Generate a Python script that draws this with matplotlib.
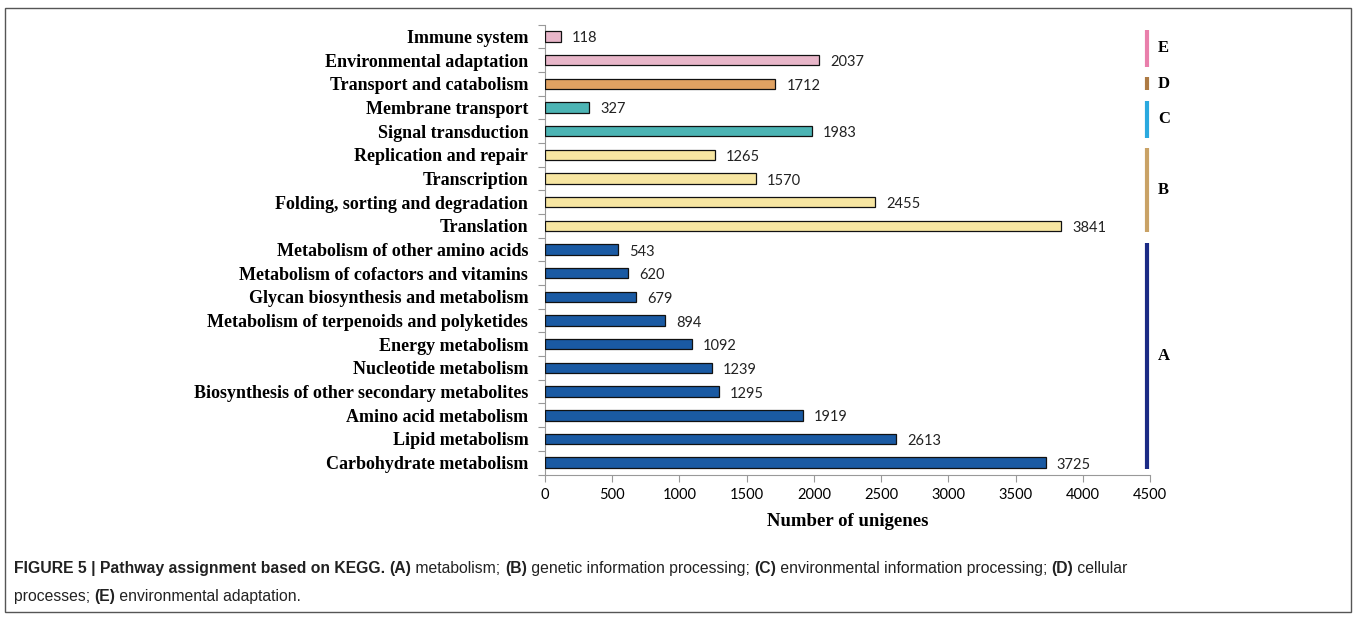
import matplotlib
matplotlib.use("Agg")
import matplotlib.pyplot as plt
from matplotlib.patches import Rectangle
import numpy as np

categories = ["Immune system", "Environmental adaptation", "Transport and catabolism",
              "Membrane transport", "Signal transduction", "Replication and repair",
              "Transcription", "Folding, sorting and degradation", "Translation",
              "Metabolism of other amino acids", "Metabolism of cofactors and vitamins",
              "Glycan biosynthesis and metabolism", "Metabolism of terpenoids and polyketides",
              "Energy metabolism", "Nucleotide metabolism",
              "Biosynthesis of other secondary metabolites", "Amino acid metabolism",
              "Lipid metabolism", "Carbohydrate metabolism"]
values = [118, 2037, 1712, 327, 1983, 1265, 1570, 2455, 3841,
          543, 620, 679, 894, 1092, 1239, 1295, 1919, 2613, 3725]
groups = ["E", "E", "D", "C", "C", "B", "B", "B", "B",
          "A", "A", "A", "A", "A", "A", "A", "A", "A", "A"]
group_names = ["E", "D", "C", "B", "A"]
bar_colors = {"A": "#1a5aa3", "B": "#f7e6a2", "C": "#4cb4b4", "D": "#e0a262", "E": "#e8b6c9"}
line_colors = {"A": "#1b2b85", "B": "#c9a266", "C": "#2aa9df", "D": "#ad7a44", "E": "#e97fab"}
xticks = [0, 500, 1000, 1500, 2000, 2500, 3000, 3500, 4000, 4500]

W, H = 1357, 619
fig = plt.figure(figsize=(W / 100, H / 100), dpi=100)
ax = fig.add_axes([545 / W, 1 - 474.5 / H, (1150 - 545) / W, (474.5 - 24.5) / H])

n = len(categories)
y = np.arange(n)
cols = [bar_colors[g] for g in groups]
ax.barh(y, values, height=0.44, color=cols, edgecolor="#111111", linewidth=0.9, zorder=3)
ax.set_ylim(n - 0.5, -0.5)
ax.set_xlim(0, 4500)

serif = ["Liberation Serif", "DejaVu Serif"]
sans = ["Lato", "DejaVu Sans"]
for yi, v in zip(y, values):
    ax.annotate(str(v), (v, yi), xytext=(8, -1.5), textcoords="offset points",
                va="center", ha="left", fontsize=10.5, family=sans, color="#222222")

ax.set_yticks(y)
ax.set_yticklabels(categories, family=serif, fontweight="bold", fontsize=13)
ax.tick_params(axis="y", which="major", length=0, pad=12)
ax.set_yticks(np.arange(-0.5, n, 1), minor=True)
ax.tick_params(axis="y", which="minor", length=5, color="#999999", width=0.8)
ax.set_xticks(xticks)
ax.set_xticklabels([str(t) for t in xticks], family=sans, fontsize=10.5)
ax.tick_params(axis="x", length=5, color="#999999", width=0.8, pad=5)
for s in ["top", "right"]:
    ax.spines[s].set_visible(False)
for s in ["left", "bottom"]:
    ax.spines[s].set_color("#999999")
    ax.spines[s].set_linewidth(0.8)
ax.set_xlabel("Number of unigenes", family=serif, fontweight="bold", fontsize=13.5, labelpad=8)

# group bars on the right
for g in group_names:
    idx = [i for i, gg in enumerate(groups) if gg == g]
    y0, y1 = min(idx) - 0.28, max(idx) + 0.28
    ax.plot([4478, 4478], [y0, y1], color=line_colors[g], lw=3, solid_capstyle="butt",
            clip_on=False, zorder=4)
    ax.text(4560, (y0 + y1) / 2, g, family=serif, fontweight="bold", fontsize=12,
            va="center", ha="left")

# outer frame
fig.patches.append(Rectangle((5 / W, 1 - 612 / H), (1351 - 5) / W, (612 - 8) / H,
                             transform=fig.transFigure, fill=False, edgecolor="#555555",
                             linewidth=1.0))

# caption with mixed weights
renderer = fig.canvas.get_renderer()
cap_font = ["Liberation Sans", "DejaVu Sans"]
def write_line(pieces, x_px, y_px):
    x = x_px
    for txt, bold in pieces:
        t = fig.text(x / W, 1 - y_px / H, txt, fontsize=11.3, family=cap_font,
                     fontweight="bold" if bold else "normal", color="#222222",
                     va="baseline", ha="left")
        bb = t.get_window_extent(renderer=renderer)
        x += bb.width
write_line([("FIGURE 5 | Pathway assignment based on KEGG. ", True), ("(A)", True),
            (" metabolism; ", False), ("(B)", True), (" genetic information processing; ", False),
            ("(C)", True), (" environmental information processing; ", False), ("(D)", True),
            (" cellular", False)], 14, 573)
write_line([("processes; ", False), ("(E)", True), (" environmental adaptation.", False)], 14, 601)

fig.savefig("out.png", dpi=100)
